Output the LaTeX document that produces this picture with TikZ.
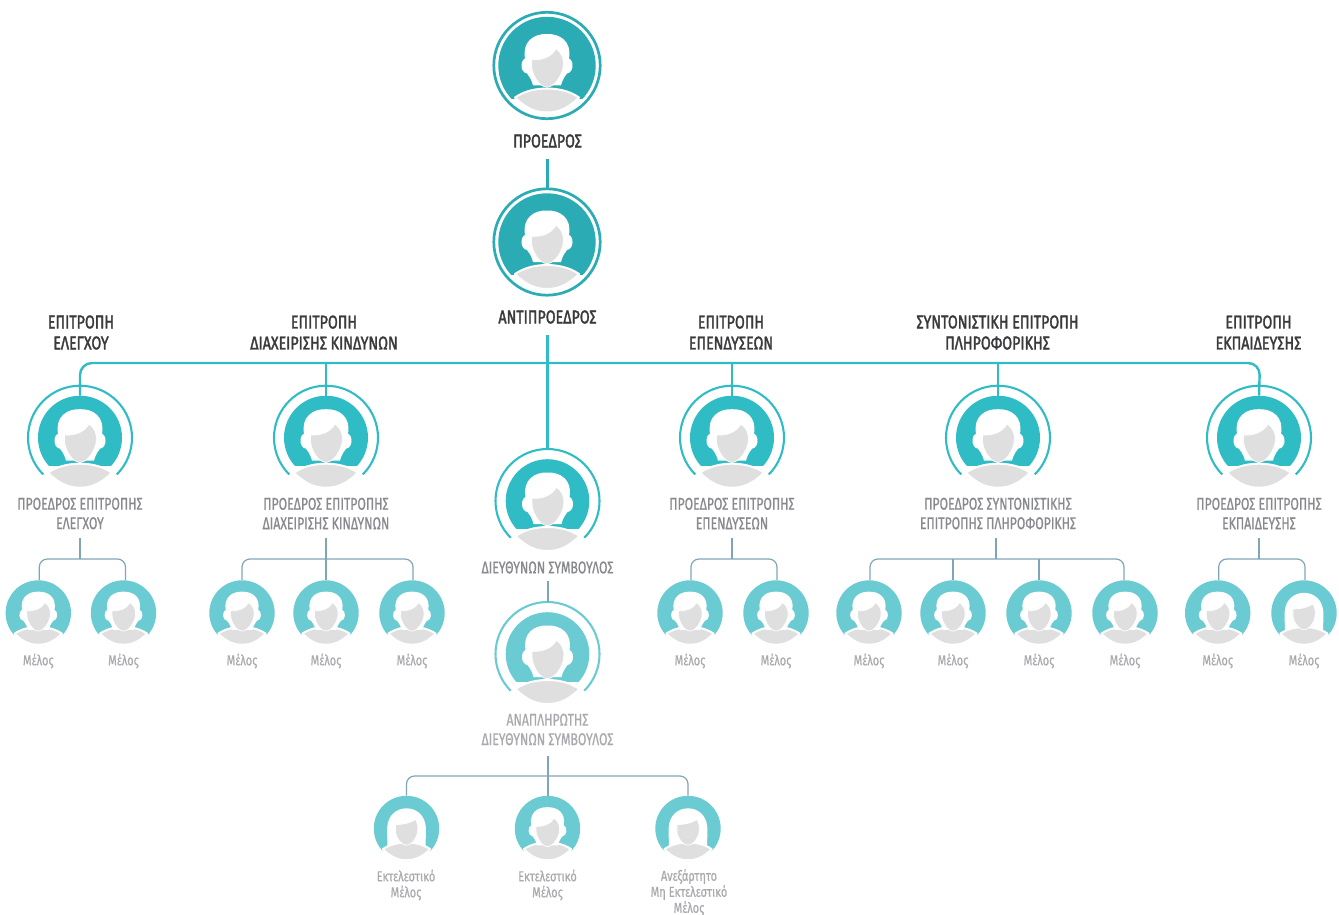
\documentclass[tikz,border=0pt]{standalone}
\usepackage{fontspec}
\setmainfont{Fira Sans}
\newfontfamily\headfont[FakeStretch=0.77,FakeBold=1.8]{Fira Sans}
\newfontfamily\labfont[FakeStretch=0.72,FakeBold=0.8]{Fira Sans}
\newfontfamily\memfont[FakeStretch=0.76,FakeBold=0.6]{Fira Sans}
\definecolor{tealA}{HTML}{2BABB3}
\definecolor{tealB}{HTML}{30BCC4}
\definecolor{tealC}{HTML}{6BCBD3}
\definecolor{slateline}{HTML}{7FA6B8}
\definecolor{headgrey}{HTML}{DFDFDF}
\definecolor{txtdark}{HTML}{3A3A3D}
\definecolor{txtmid}{HTML}{88898E}
\definecolor{txtlight}{HTML}{A9AAAE}
\tikzset{
  headlab/.style={font=\headfont\fontsize{18.5}{21}\selectfont,text=txtdark,align=center,inner sep=0pt},
  chairlab/.style={font=\labfont\fontsize{17}{19.5}\selectfont,text=txtmid,align=center,inner sep=0pt},
  altlab/.style={font=\labfont\fontsize{17}{19.5}\selectfont,text=txtlight,align=center,inner sep=0pt},
  memlab/.style={font=\memfont\fontsize{14.5}{16}\selectfont,text=txtlight,align=center,inner sep=0pt},
  busline/.style={draw=tealB,line width=2.4pt,rounded corners=12pt},
  darkline/.style={draw=tealA,line width=2.6pt},
  treeline/.style={draw=slateline,line width=1.2pt,rounded corners=8pt},
  stemline/.style={draw=slateline,line width=2pt},
  disk/.style={circle,inner sep=0pt,draw=none}
}
\newcommand{\hairzero}{%
  \fill[white] (-14,20) .. controls (-16,12) and (-19,10) .. (-20,8) .. controls (-27,7) and (-27,-5) .. (-22,-7) .. controls (-25,-24) and (-13,-32) .. (0,-31.5) .. controls (13,-32) and (25,-24) .. (22,-7) .. controls (27,-5) and (27,7) .. (20,8) .. controls (19,10) and (16,12) .. (14,20) -- cycle;
}
\newcommand{\hairone}{%
  \fill[white] (-26,30) .. controls (-25,15) and (-27,5) .. (-26,-5) .. controls (-25,-20) and (-14,-30) .. (0,-30) .. controls (14,-30) and (25,-20) .. (26,-5) .. controls (27,5) and (25,15) .. (26,30) -- cycle;
}
\newcommand{\headzero}{%
  \filldraw[fill=headgrey,draw=white,line width=.7pt] (-15.5,-5.7) .. controls (-6,-5) and (4,-8) .. (9,-16.7) .. controls (14,-13) and (17,-8) .. (16.3,0) .. controls (16,8) and (8,21.7) .. (0,21.7) .. controls (-8,21.7) and (-15.5,8) .. (-15.5,0) -- cycle;
}
\newcommand{\headone}{%
  \filldraw[fill=headgrey,draw=white,line width=.7pt] (-15,-8) .. controls (-6,-8) and (6,-10) .. (12,-15) .. controls (15,-10) and (16,-5) .. (15,2) .. controls (14,10) and (7,20) .. (0,20) .. controls (-7,20) and (-14,10) .. (-15,2) -- cycle;
}
\newcommand{\lensshape}{(-32,32) .. controls (-22,25) and (-10,23) .. (0,23) .. controls (10,23) and (22,25) .. (32,32) .. controls (20,44) and (10,47) .. (0,47) .. controls (-10,47) and (-20,44) .. (-32,32) -- cycle}
% #1 name #2 x #3 y #4 R #5 colour #6 scale #7 person offset #8 shoulder offset #9 hair: 0 male, 1 female
\newcommand{\psn}[9]{%
  \node[disk,fill=#5,minimum size=#4*2pt] (#1) at (#2,#3) {};
  \begin{scope}
    \clip (#2,#3) circle (#4+.5);
    \fill[white] (#2-#4-2,#3+#4*.68) rectangle (#2+#4+2,#3+#4+2);
  \end{scope}
  \ifnum#9=1
    \begin{scope}[shift={(#2,#3+#7)},scale=#6]\hairone\end{scope}
  \fi
  \begin{scope}[shift={(#2,#3+#8)},scale=#6]
    \filldraw[fill=headgrey,draw=white,line width=2pt,line join=round] \lensshape;
  \end{scope}
  \begin{scope}[shift={(#2,#3+#7)},scale=#6]
    \ifnum#9=0 \hairzero\headzero\else\headone\fi
  \end{scope}
}
\newcommand{\fullring}[4]{\draw[draw=#4,line width=#3pt] (#1) circle (#2);}
\newcommand{\openring}[4]{\draw[draw=#4,line width=#3pt] (#1) ++(135:#2) arc (135:405:#2);}
\begin{document}
\begin{tikzpicture}[x=1pt,y=-1pt]
\useasboundingbox (0,0) rectangle (1339,915);
% Top
\psn{pres}{547}{65.5}{48.7}{tealA}{1}{0}{0}{0}
\fullring{pres}{53.2}{2.7}{tealA}
\node[headlab] (presL) at (547.5,141) {ΠΡΟΕΔΡΟΣ};
\psn{vice}{547}{242}{48.7}{tealA}{1}{0}{0}{0}
\fullring{vice}{53.2}{2.7}{tealA}
\node[headlab] (viceL) at (547.5,317) {ΑΝΤΙΠΡΟΕΔΡΟΣ};
\coordinate (presB) at (547.5,159);
\coordinate (viceT) at (547.5,188);
\draw[darkline] (presB) -- (viceT);
% Committees headings
\node[headlab] (cA) at (81,332.5) {ΕΠΙΤΡΟΠΗ\\ΕΛΕΓΧΟΥ};
\node[headlab] (cB) at (324,332.5) {ΕΠΙΤΡΟΠΗ\\ΔΙΑΧΕΙΡΙΣΗΣ ΚΙΝΔΥΝΩΝ};
\node[headlab] (cC) at (731,332.5) {ΕΠΙΤΡΟΠΗ\\ΕΠΕΝΔΥΣΕΩΝ};
\node[headlab] (cD) at (997.5,332.5) {ΣΥΝΤΟΝΙΣΤΙΚΗ ΕΠΙΤΡΟΠΗ\\ΠΛΗΡΟΦΟΡΙΚΗΣ};
\node[headlab] (cE) at (1258.5,332.5) {ΕΠΙΤΡΟΠΗ\\ΕΚΠΑΙΔΕΥΣΗΣ};
% Chairs
\foreach \nm/\xx in {chA/80,chB/326,chC/732,chD/998,chE/1259}{
  \psn{\nm}{\xx}{437.7}{42}{tealB}{1}{3}{3}{0}
  \openring{\nm}{52}{2.1}{tealB}
}
\node[chairlab] (lA) at (80,513.5) {ΠΡΟΕΔΡΟΣ ΕΠΙΤΡΟΠΗΣ\\ΕΛΕΓΧΟΥ};
\node[chairlab] (lB) at (326,513.5) {ΠΡΟΕΔΡΟΣ ΕΠΙΤΡΟΠΗΣ\\ΔΙΑΧΕΙΡΙΣΗΣ ΚΙΝΔΥΝΩΝ};
\node[chairlab] (lC) at (732,513.5) {ΠΡΟΕΔΡΟΣ ΕΠΙΤΡΟΠΗΣ\\ΕΠΕΝΔΥΣΕΩΝ};
\node[chairlab] (lD) at (998,513.5) {ΠΡΟΕΔΡΟΣ ΣΥΝΤΟΝΙΣΤΙΚΗΣ\\ΕΠΙΤΡΟΠΗΣ ΠΛΗΡΟΦΟΡΙΚΗΣ};
\node[chairlab] (lE) at (1259,513.5) {ΠΡΟΕΔΡΟΣ ΕΠΙΤΡΟΠΗΣ\\ΕΚΠΑΙΔΕΥΣΗΣ};
% Bus
\coordinate (busB) at (326,363);
\coordinate (busC) at (732,363);
\coordinate (busD) at (998,363);
\coordinate (busLeft) at (80,363);
\coordinate (busRight) at (1260,363);
\draw[busline] (chA.north) -- (busLeft) -- (busRight) -- (chE.north);
\draw[busline] (busB) -- (chB.north);
\draw[busline] (busC) -- (chC.north);
\draw[busline] (busD) -- (chD.north);
% CEO
\psn{ceo}{547.5}{501}{41.8}{tealB}{1}{3}{3}{0}
\openring{ceo}{52}{2.1}{tealB}
\node[chairlab,text=txtmid] (ceoL) at (547.5,567.5) {ΔΙΕΥΘΥΝΩΝ ΣΥΜΒΟΥΛΟΣ};
\coordinate (viceB) at (547.5,335);
\coordinate (ceoT) at (547.5,450);
\draw[darkline,draw=tealB] (viceB) -- (ceoT);
% Alternate CEO
\psn{alt}{547.5}{654}{41.8}{tealC}{1}{3}{3}{0}
\openring{alt}{52}{2.1}{tealC}
\node[altlab] (altL) at (547.5,729.5) {ΑΝΑΠΛΗΡΩΤΗΣ\\ΔΙΕΥΘΥΝΩΝ ΣΥΜΒΟΥΛΟΣ};
\coordinate (ceoB) at (547.5,581);
\coordinate (altT) at (547.5,602);
\draw[stemline] (ceoB) -- (altT);
% Members
\foreach \nm/\xx/\ff in {mAa/38.3/0,mAb/123.5/0,mBa/242/0,mBb/326/0,mBc/412/0,mCa/690/0,mCb/776/0,mDa/869/0,mDb/953/0,mDc/1039/0,mDd/1125/0,mEa/1217.7/0,mEb/1304/1}{
  \psn{\nm}{\xx}{613}{32.7}{tealC}{.74}{2}{-3}{\ff}
  \node[memlab] (\nm L) at (\xx,661) {Μέλος};
}
\foreach \nm/\xx/\ff in {xa/406.5/1,xb/547.5/0,xc/688/1}{
  \psn{\nm}{\xx}{828.5}{32.7}{tealC}{.74}{2}{-3}{\ff}
}
\node[memlab] (xaL) at (406,885) {Εκτελεστικό\\Μέλος};
\node[memlab] (xbL) at (547.5,885) {Εκτελεστικό\\Μέλος};
\node[memlab] (xcL) at (689,892.5) {Ανεξάρτητο\\Μη Εκτελεστικό\\Μέλος};
% Trees
\coordinate (sA) at (80,538);   \coordinate (jA) at (80,559);
\coordinate (sB) at (326,538);  \coordinate (jB) at (326,559);
\coordinate (sC) at (732,538);  \coordinate (jC) at (732,559);
\coordinate (sD) at (996,538);  \coordinate (jD) at (996,559);
\coordinate (sE) at (1259,538); \coordinate (jE) at (1259,559);
\coordinate (sX) at (547.5,756);\coordinate (jX) at (547.5,776);
\draw[stemline] (sA) -- (jA);
\draw[stemline] (sB) -- (mBb.north);
\draw[stemline] (sC) -- (jC);
\draw[stemline] (sD) -- (jD);
\draw[stemline] (sE) -- (jE);
\draw[stemline] (sX) -- (xb.north);
\draw[treeline] ([xshift=1pt]mAa.north) |- (jA) -| ([xshift=2pt]mAb.north);
\draw[treeline] (mBa.north) |- (jB) -| ([xshift=1pt]mBc.north);
\draw[treeline] ([xshift=1pt]mCa.north) |- (jC) -| ([xshift=1pt]mCb.north);
\draw[treeline] ([xshift=1pt]mDa.north) |- (jD) -| ([xshift=-1pt]mDd.north);
\draw[treeline] (mDb.north) -- (mDb.north |- jD);
\draw[treeline] (mDc.north) -- (mDc.north |- jD);
\draw[treeline] ([xshift=1pt]mEa.north) |- (jE) -| ([xshift=1pt]mEb.north);
\draw[treeline] (xa.north) |- (jX) -| (xc.north);
\end{tikzpicture}
\end{document}
